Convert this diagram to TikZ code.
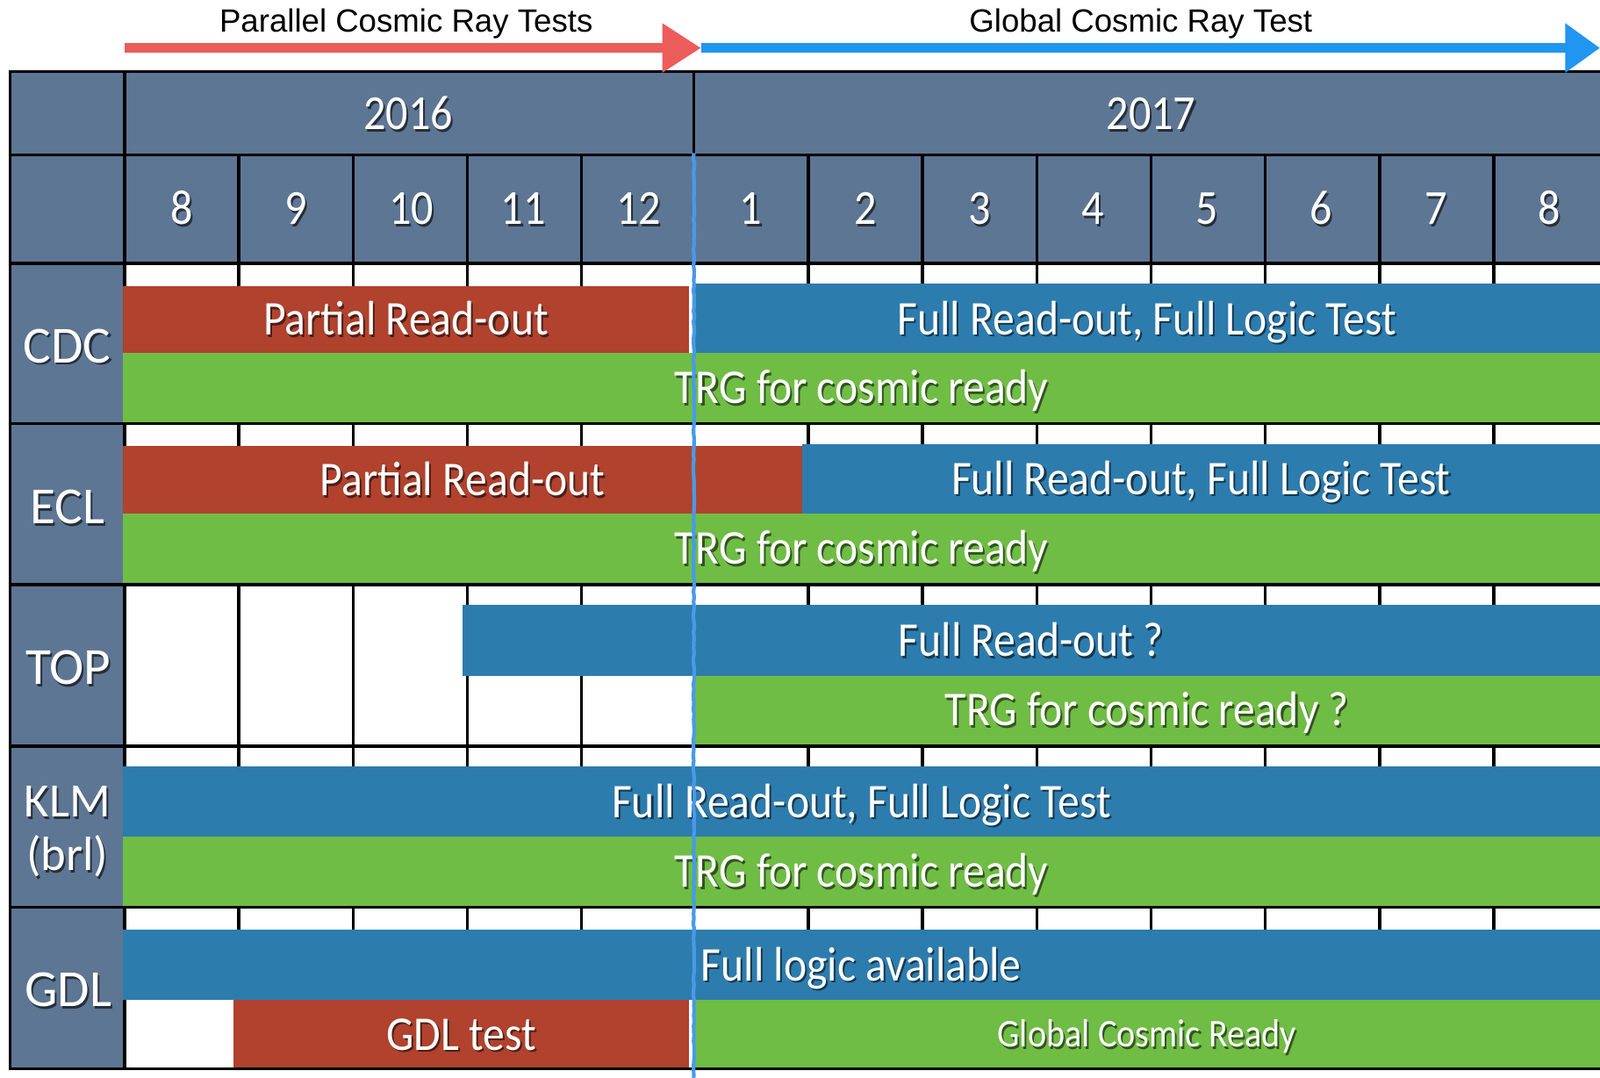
\documentclass[tikz,border=0pt]{standalone}
\usepackage{fontspec}
\newfontfamily\gill[FakeStretch=0.9]{Carlito}
\newfontfamily\gillwide{Carlito}
\newfontfamily\helv{Liberation Sans}
\usetikzlibrary{arrows.meta,decorations.pathmorphing}
\definecolor{slate}{RGB}{93,118,148}
\definecolor{cRed}{RGB}{176,66,46}
\definecolor{cBlue}{RGB}{45,124,174}
\definecolor{cGreen}{RGB}{111,189,68}
\definecolor{arRed}{RGB}{236,92,90}
\definecolor{arBlue}{RGB}{32,150,240}
\definecolor{vBlue}{RGB}{72,154,232}
\newcommand\shcol{black}
\newcommand\shtx[1]{\leavevmode\rlap{\kern1.8pt\raisebox{-2.4pt}{\textcolor{\shcol}{#1}}}#1}
\begin{document}
\begin{tikzpicture}[x=1pt,y=-1pt,
  gridline/.style={line width=3pt, black},
  bar/.style={rectangle, inner sep=0pt, outer sep=0pt, anchor=north west, text=white,
    font=\gill\fontsize{47.5}{52}\selectfont, text height=30.6pt, text depth=0pt},
  redbar/.style={bar, fill=cRed, execute at begin node={\def\shcol{cRed!45!black}}},
  bluebar/.style={bar, fill=cBlue, execute at begin node={\def\shcol{cBlue!45!black}}},
  greenbar/.style={bar, fill=cGreen, execute at begin node={\def\shcol{cGreen!45!black}}},
  smalltext/.style={font=\gill\fontsize{38.5}{42}\selectfont, text height=24.8pt},
  hdr/.style={text=white, inner sep=0pt, font=\gill\fontsize{48}{52}\selectfont,
    text height=30.3pt, text depth=0pt,
    execute at begin node={\def\shcol{slate!40!black}}},
  rowbase/.style={text=white, inner sep=0pt, align=center,
    execute at begin node={\def\shcol{slate!40!black}}},
  rowlbl/.style={rowbase, font=\gillwide\fontsize{51}{51}\selectfont,
    text height=32.8pt, text depth=0pt},
  rowtwo/.style={rowbase, font=\gillwide\fontsize{47}{52}\selectfont},
  caption/.style={inner sep=0pt, text=black, font=\helv\fontsize{31.5}{36}\selectfont},
  redarrow/.style={draw=arRed, line width=9pt, -{Triangle[length=38pt,width=46pt]}},
  bluearrow/.style={draw=arBlue, line width=9pt, -{Triangle[length=34pt,width=46pt]}},
  splitline/.style={draw=vBlue, line width=3.6pt, decorate,
    decoration={random steps, segment length=5pt, amplitude=0.6pt}},
]
\useasboundingbox (0,0) rectangle (1568,1056);
\fill[white] (0,0) rectangle (1568,1056);
% header fills
\fill[slate] (10,70) rectangle (1568,258);
\fill[slate] (10,258) rectangle (122,1047);
% month vertical lines (under bars)
\foreach \x in {234,346,458,570,680,792,904,1016,1128,1240,1352,1464}
  \draw[gridline] (\x,152) -- (\x,1047);
\draw[gridline] (680,70) -- (680,152);
\draw[gridline] (122,70) -- (122,1047);
% header texts
\node[hdr] (y2016) at (400,112) {\shtx{2016}};
\node[hdr] (y2017) at (1128,112) {\shtx{2017}};
\foreach \x/\m [count=\i] in {178/8,290/9,403/10,513/11,626/12,736/1,848/2,960/3,1071/4,1183/5,1295/6,1407/7,1518/8}
  \node[hdr] (m\i) at (\x,205) {\shtx{\m}};
% CDC
\node[redbar, minimum width=554.5pt, minimum height=66pt] (cdcR) at (120.5,280) {\shtx{Partial Read-out}};
\node[bluebar, minimum width=888pt, minimum height=69pt] (cdcB) at (680,278) {\shtx{Full Read-out, Full Logic Test}};
\node[greenbar, minimum width=1447.5pt, minimum height=68pt] (cdcG) at (120.5,346) {\shtx{TRG for cosmic ready}};
% ECL
\node[redbar, minimum width=665.5pt, minimum height=66pt] (eclR) at (120.5,437) {\shtx{Partial Read-out}};
\node[bluebar, minimum width=782pt, minimum height=68pt] (eclB) at (786,435) {\shtx{Full Read-out, Full Logic Test}};
\node[greenbar, minimum width=1447.5pt, minimum height=69pt] (eclG) at (120.5,503) {\shtx{TRG for cosmic ready}};
% TOP
\node[bluebar, minimum width=1115pt, minimum height=69pt] (topB) at (453,593) {\shtx{Full Read-out ?}};
\node[greenbar, minimum width=888pt, minimum height=68pt] (topG) at (680,662) {\shtx{TRG for cosmic ready ?}};
% KLM
\node[bluebar, minimum width=1447.5pt, minimum height=69pt] (klmB) at (120.5,751) {\shtx{Full Read-out, Full Logic Test}};
\node[greenbar, minimum width=1447.5pt, minimum height=68pt] (klmG) at (120.5,820) {\shtx{TRG for cosmic ready}};
% GDL
\node[bluebar, minimum width=1448pt, minimum height=69pt] (gdlB) at (120,911) {\shtx{Full logic available}};
\node[redbar, minimum width=446pt, minimum height=67pt] (gdlR) at (229,980) {\shtx{GDL test}};
\node[greenbar, smalltext, minimum width=888pt, minimum height=67pt] (gdlG) at (680,980) {\shtx{Global Cosmic Ready}};
% horizontal lines and borders
\foreach \y in {70,152,258,415,573,731,889,1047}
  \draw[gridline] (8.5,\y) -- (1568,\y);
\draw[gridline] (10,70) -- (10,1047);
% row labels
\node[rowlbl] (lCDC) at (66,339) {\shtx{CDC}};
\node[rowlbl] (lECL) at (66,497) {\shtx{ECL}};
\node[rowlbl] (lTOP) at (67,654) {\shtx{TOP}};
\node[rowtwo] (lKLM) at (66,816) {\shtx{KLM}\\\shtx{(brl)}};
\node[rowlbl] (lGDL) at (67,970) {\shtx{GDL}};
% phase arrows
\coordinate (pStart) at (122,47);
\coordinate (pMid) at (687,47);
\coordinate (pEnd) at (1568,47);
\draw[bluearrow] (pMid) -- (pEnd);
\draw[redarrow] (pStart) -- (pMid);
\node[caption] (capP) at (398,23) {Parallel Cosmic Ray Tests};
\node[caption] (capG) at (1118,23) {Global Cosmic Ray Test};
% split line
\coordinate (vTop) at (680,150);
\coordinate (vBot) at (680,1056);
\draw[splitline] (vTop) -- (vBot);
\end{tikzpicture}
\end{document}
